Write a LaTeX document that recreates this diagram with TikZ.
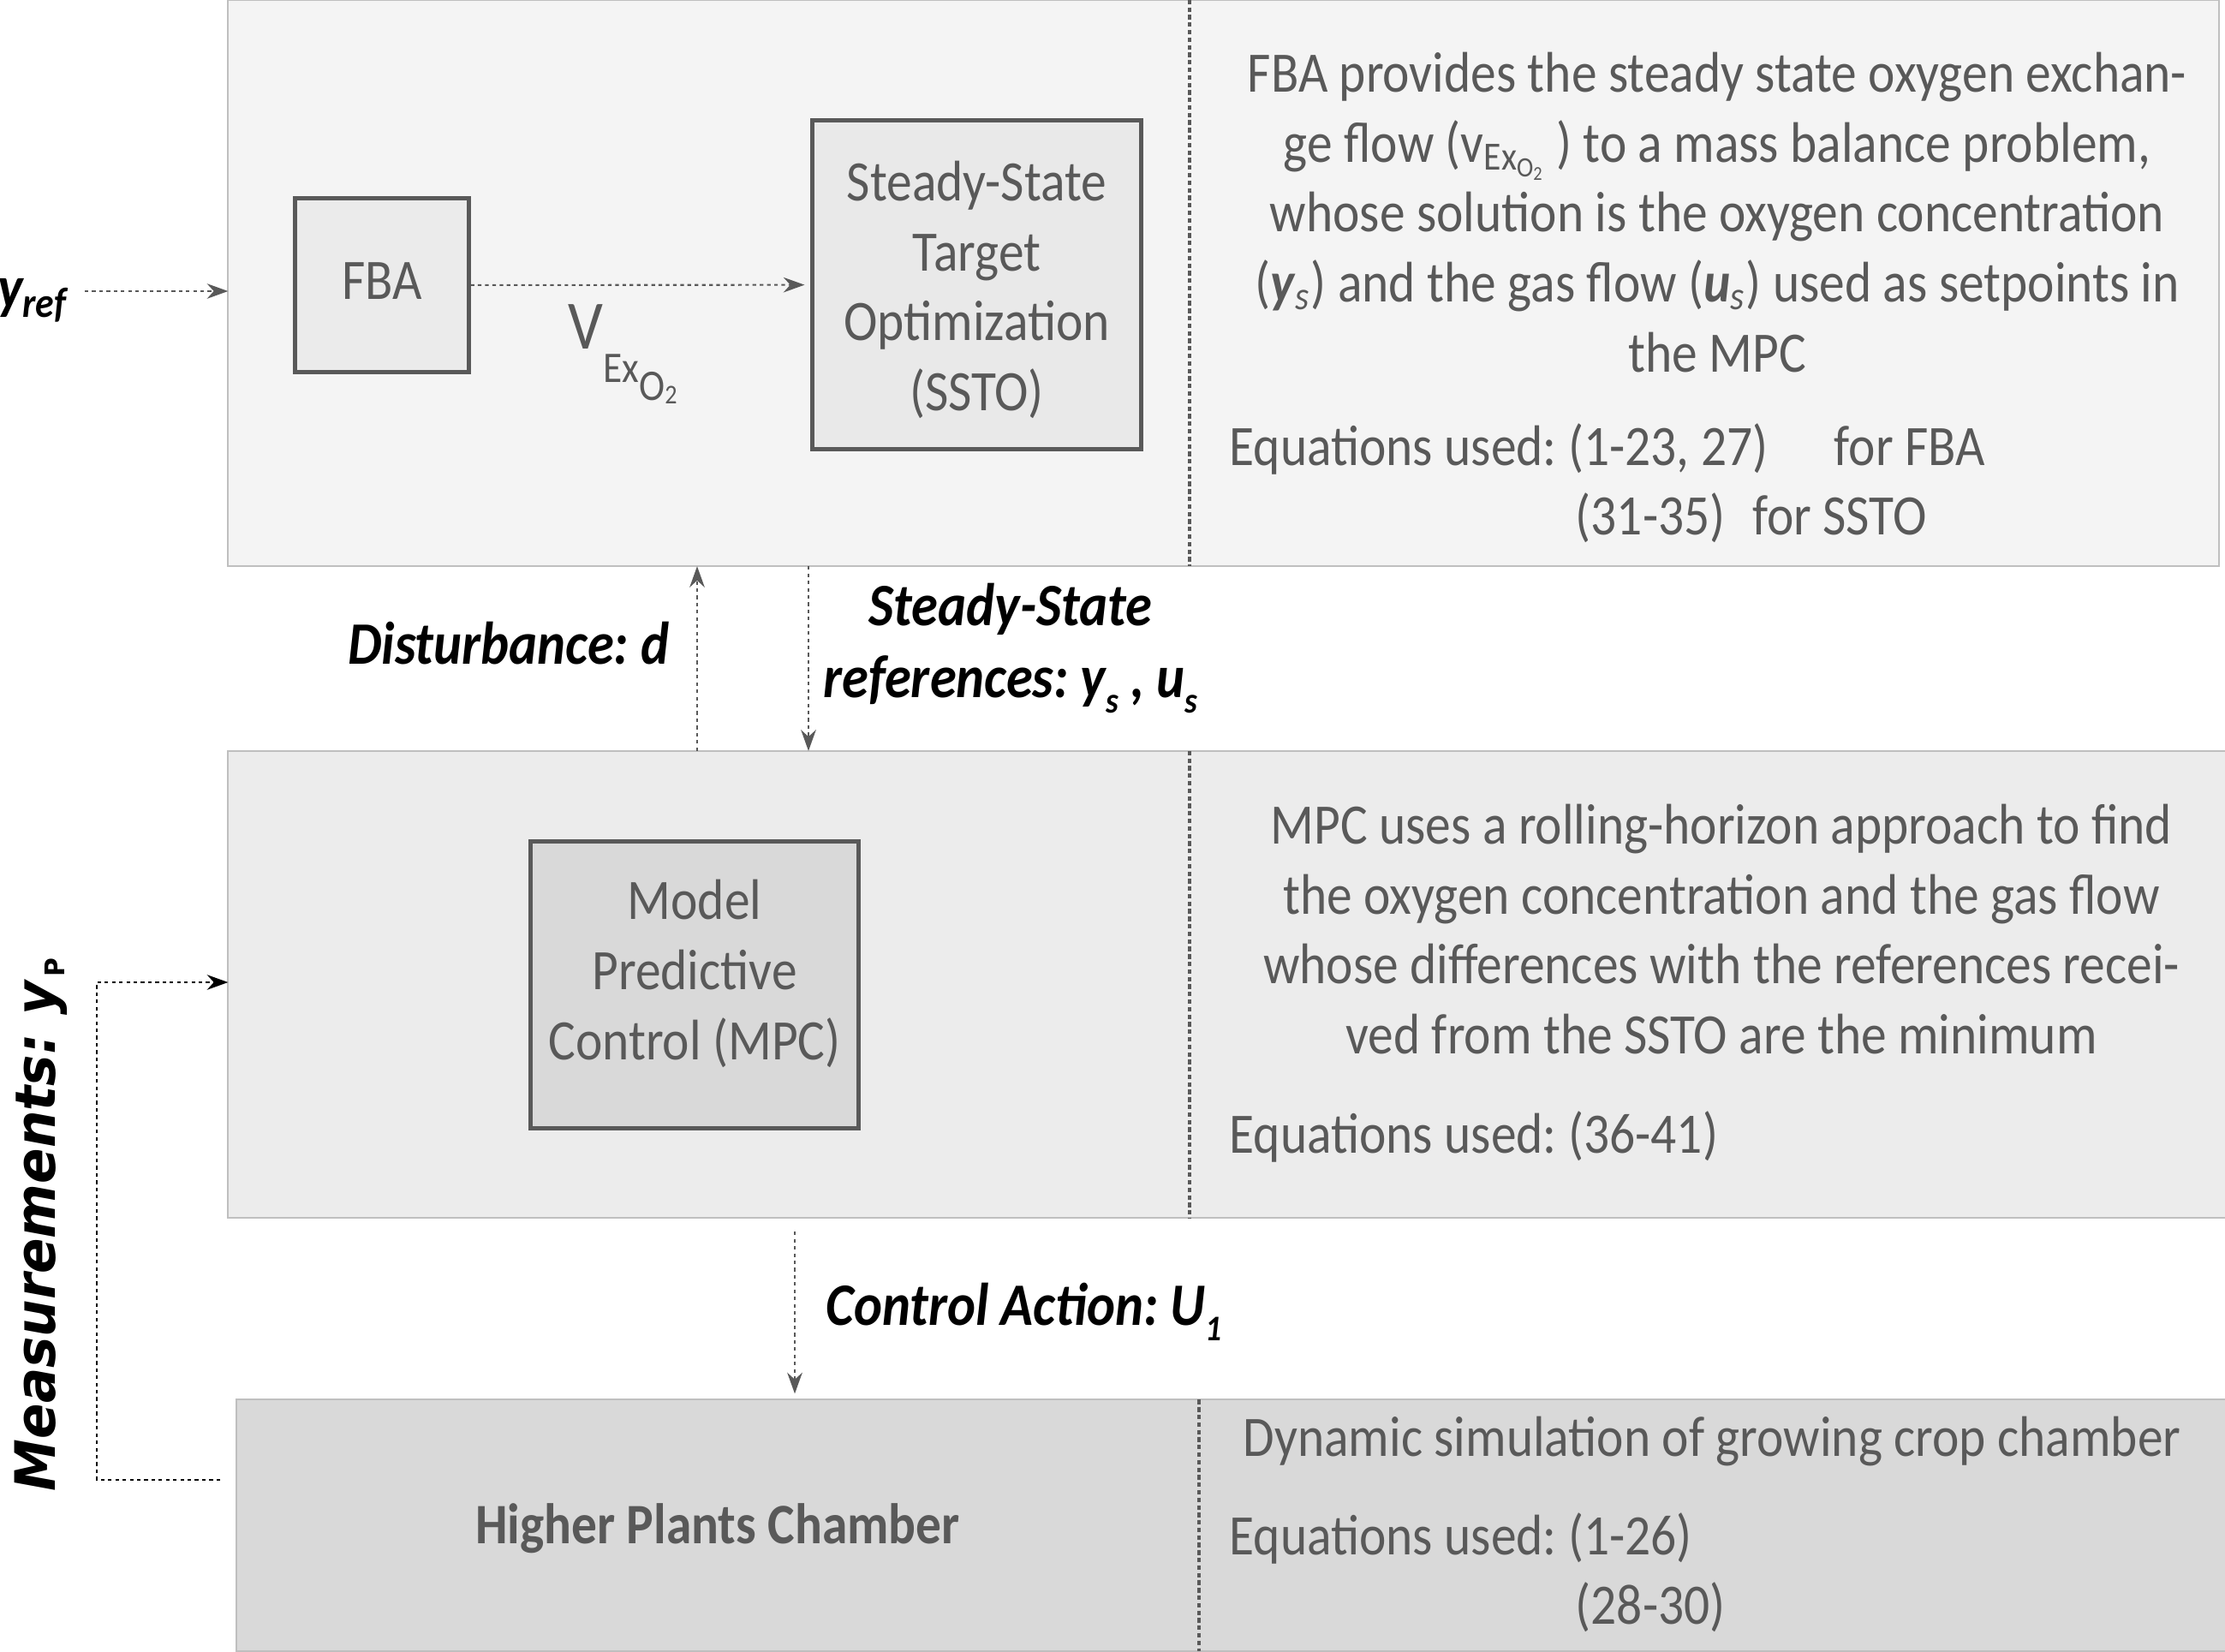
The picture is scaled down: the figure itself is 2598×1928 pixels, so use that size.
\documentclass[tikz,border=0pt]{standalone}
\usepackage{fontspec}
\setmainfont{Carlito}[FakeStretch=0.89]
\newfontfamily\measfont{DejaVu Sans}[FakeStretch=0.94]
\usetikzlibrary{positioning,arrows.meta}
\definecolor{inkgray}{HTML}{595959}
\definecolor{rimgray}{HTML}{BFBFBF}
\definecolor{topfill}{HTML}{F4F4F4}
\definecolor{midfill}{HTML}{ECECEC}
\definecolor{lowfill}{HTML}{D9D9D9}
\definecolor{fbafill}{HTML}{EBEBEB}
\definecolor{sstofill}{HTML}{E9E9E9}
\newcommand{\vexo}{v\textsubscript{Ex\textsubscript{O\textsubscript{2}}}}
\newcommand{\lowsub}[1]{\raisebox{-5pt}{\fontsize{12}{12}\selectfont #1}}
\frenchspacing

\begin{document}
\begin{tikzpicture}[
    x=0.01cm, y=-0.01cm,
    panel/.style={draw=rimgray, line width=0.6pt, inner sep=0pt, outer sep=0pt},
    blkbox/.style={draw=inkgray, line width=1.4pt, fill=#1, text=inkgray, align=center,
        inner sep=0pt, font=\fontsize{19}{23.2}\selectfont},
    flow/.style={-{Stealth[length=7pt,width=5pt]}, inkgray, line width=0.6pt,
        dash pattern=on 1.2pt off 1.2pt},
    divider/.style={inkgray, line width=1pt, dash pattern=on 1.5pt off 1pt},
    desc/.style={text=inkgray, font=\fontsize{19}{23.2}\selectfont, inner sep=0pt},
    lbl/.style={font=\fontsize{20}{24}\selectfont\bfseries\itshape, inner sep=0pt},
]
\useasboundingbox (0,0) rectangle (2598,1928);
% panels
\node[panel, fill=topfill, minimum width=23.23cm, minimum height=6.61cm] (topP) at (1428.5,330.5) {};
\node[panel, fill=midfill, minimum width=23.31cm, minimum height=5.45cm] (midP) at (1432.5,1149.5) {};
\node[panel, fill=lowfill, minimum width=23.21cm, minimum height=2.93cm] (lowP) at (1437.5,1781) {};
\coordinate (topD) at (1389,0);
\coordinate (midD) at (1389,0);
\coordinate (lowD) at (1400,0);
\draw[divider] (topP.north -| topD) -- (topP.south -| topD);
\draw[divider] (midP.north -| midD) -- (midP.south -| midD);
\draw[divider] (lowP.north -| lowD) -- (lowP.south -| lowD);
% blocks
\node[blkbox=fbafill, minimum width=2.02cm, minimum height=2.02cm] (fba) at (446,333) {};
\node[desc] (fbaLbl) at ([yshift=0.05cm]fba.center) {FBA};
\node[blkbox=sstofill, minimum width=3.83cm, minimum height=3.83cm] (ssto) at (1140.5,332.5) {};
\node[desc, align=center] (sstoLbl) at ([yshift=-0.06cm]ssto.center)
    {Steady-State\\Target\\Optimization\\(SSTO)};
\node[blkbox=lowfill, minimum width=3.82cm, minimum height=3.34cm] (mpc) at (811,1150) {};
\node[desc, align=center] (mpcLbl) at ([yshift=0.13cm]mpc.center)
    {Model\\Predictive\\Control (MPC)};
\node[desc, font=\fontsize{19}{23.2}\selectfont\bfseries] (hpc) at (838,1785) {Higher Plants Chamber};
% signals
\node[lbl] (yref) at (38,351) {y\textsubscript{ref}};
\coordinate (yrefS) at (99,340);
\draw[flow] (yrefS) -- (yrefS -| topP.west);
\draw[flow, shorten >=2pt] (fba) -- (ssto);
\node[desc, anchor=base west] (vex) at (663,408) {\fontsize{23}{23}\selectfont V\raisebox{-11pt}{\fontsize{14.5}{14.5}\selectfont Ex\raisebox{-6pt}{O\raisebox{-1pt}{\fontsize{9}{9}\selectfont 2}}}};
\coordinate (dX) at (814,0);
\draw[flow] (midP.north -| dX) -- (topP.south -| dX);
\node[lbl, anchor=east] (dist) at (782,751) {Disturbance: d};
\coordinate (sX) at (944,0);
\draw[flow] (topP.south -| sX) -- (midP.north -| sX);
\node[lbl, align=center] (ssref) at (1180,757) {Steady-State\\references: y\lowsub{s} , u\lowsub{s}};
\coordinate (cX) at (928,0);
\draw[flow, shorten <=0.16cm, shorten >=2pt] (midP.south -| cX) -- (lowP.north -| cX);
\node[lbl, anchor=west] (ctrl) at (964,1532) {Control Action: U\lowsub{1}};
\coordinate (mX) at (113,0);
\coordinate (mStart) at (257,1728);
\coordinate (mEnd) at (0,1147);
\draw[flow, black] (mStart) -- (mStart -| mX) |- (mEnd -| midP.west);
\node[lbl, rotate=90, font=\measfont\bfseries\itshape\fontsize{18.5}{18.5}\selectfont] (meas) at (48,1430)
    {Measurements: y\raisebox{-3pt}{\upshape\fontsize{9}{9}\selectfont\,P}};
% descriptions
\node[desc, align=center] (fbaTxt) at (2005,248) {FBA provides the steady state oxygen exchan-\\ge flow (\vexo\,) to a mass balance problem,\\whose solution is the oxygen concentration\\(\textbf{\textit{y}}\textsubscript{\textit{s}}) and the gas flow (\textbf{\textit{u}}\textsubscript{\textit{s}}) used as setpoints in\\the MPC};
\node[desc, anchor=west] (eqTop) at (1435,524) {Equations used: (1-23, 27)\hspace{22pt}for FBA};
\node[desc, anchor=west] (eqTopB) at (1839,605) {(31-35)\hspace{9pt}for SSTO};
\node[desc, align=center] (mpcTxt) at (2010,1085) {MPC uses a rolling-horizon approach to find\\the oxygen concentration and the gas flow\\whose differences with the references recei-\\ved from the SSTO are the minimum};
\node[desc, anchor=west] (eqMid) at (1435,1327) {Equations used: (36-41)};
\node[desc, anchor=west] (dynTxt) at (1451,1683) {Dynamic simulation of growing crop chamber};
\node[desc, anchor=west] (eqLow) at (1435,1796) {Equations used: (1-26)};
\node[desc, anchor=west] (eqLowB) at (1839,1877) {(28-30)};
\end{tikzpicture}
\end{document}
